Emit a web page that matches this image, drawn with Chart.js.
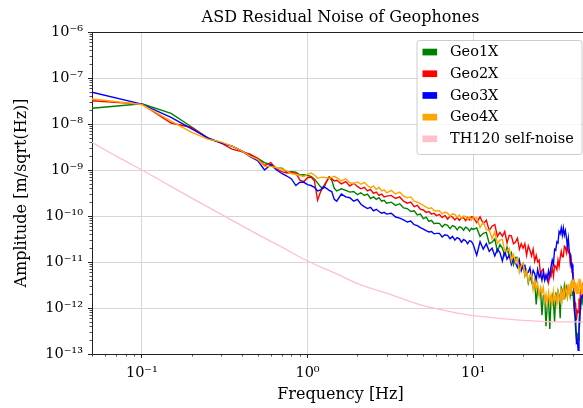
<!DOCTYPE html>
<html>
<head>
<meta charset="utf-8">
<script src="https://cdn.jsdelivr.net/npm/chart.js@4.4.0/dist/chart.umd.min.js"></script>
<style>
  html, body { margin: 0; padding: 0; background: #fff; overflow: hidden; }
  #wrap { width: 583px; height: 408px; overflow: hidden; }
</style>
</head>
<body>
<div id="wrap"><canvas id="asdChart" width="600" height="408"></canvas></div>
<script>
// frequency bins shared by the geophone spectra [Hz]
const freqs = [
  0.05, 0.1, 0.15, 0.2, 0.25, 0.3, 0.35, 0.4, 0.45, 0.5, 0.55, 0.6, 0.65, 0.7, 0.75,
  0.8, 0.85, 0.9, 0.95, 1.0, 1.05, 1.1, 1.15, 1.2, 1.25, 1.3, 1.35, 1.4, 1.45, 1.5,
  1.6, 1.7, 1.8, 1.9, 2.0, 2.1, 2.2, 2.3, 2.4, 2.5, 2.6, 2.7, 2.8, 2.9, 3.0,
  3.2, 3.4, 3.6, 3.8, 4.0, 4.2, 4.4, 4.6, 4.8, 5.0, 5.2, 5.4, 5.6, 5.8, 6.0,
  6.25, 6.5, 6.75, 7.0, 7.25, 7.5, 7.75, 8.0, 8.25, 8.5, 8.75, 9.0, 9.25, 9.5, 9.75, 10.0,
  10.5, 11, 11.5, 12, 12.5, 13, 13.5, 14,
  14.5, 15, 15.5, 16, 16.5, 17, 17.5, 18,
  18.5, 19, 19.5, 20, 20.5, 21, 21.5, 22,
  22.5, 23, 23.5, 24, 24.5, 25, 25.5, 26,
  26.5, 27, 27.5, 28, 28.5, 29, 29.5, 30,
  30.5, 31, 31.5, 32, 32.5, 33, 33.5, 34,
  34.5, 35, 35.5, 36, 36.5, 37, 37.5, 38,
  38.5, 39, 39.5, 40, 40.5, 41, 41.5, 42,
  42.5, 43, 43.5, 44, 44.5, 45, 45.5, 46
];

// residual ASD per geophone [m/sqrt(Hz)]
const geo1X = [
  2.2e-8, 2.75e-8, 1.7e-8, 8.6e-9, 5.0e-9, 3.9e-9, 3.3e-9, 2.6e-9, 2.1e-9, 1.8e-9, 1.45e-9, 1.3e-9, 1.1e-9, 1.1e-9, 9.0e-10,
  9.2e-10, 9.0e-10, 7.8e-10, 7.9e-10, 7.6e-10, 7.3e-10, 6.4e-10, 5.2e-10, 4.3e-10, 4.0e-10, 5.5e-10, 7.0e-10, 6.0e-10, 4.0e-10, 3.5e-10,
  3.9e-10, 3.6e-10, 3.3e-10, 3.4e-10, 2.9e-10, 3.2e-10, 2.8e-10, 3.0e-10, 2.4e-10, 2.6e-10, 2.3e-10, 2.5e-10, 2.1e-10, 2.2e-10, 1.9e-10,
  2.0e-10, 1.7e-10, 1.85e-10, 1.5e-10, 1.45e-10, 1.25e-10, 1.3e-10, 1.05e-10, 1.1e-10, 8.8e-11, 9.4e-11, 7.6e-11, 8.0e-11, 6.8e-11, 7.0e-11,
  6.9e-11, 5.8e-11, 6.6e-11, 6.3e-11, 5.3e-11, 6.2e-11, 5.9e-11, 5.0e-11, 5.8e-11, 5.6e-11, 4.9e-11, 5.7e-11, 5.4e-11, 4.7e-11, 5.4e-11, 5.1e-11,
  5.5e-11, 3.6e-11, 4.2e-11, 4.4e-11, 2.5e-11, 2.7e-11, 3.2e-11, 1.7e-11,
  2.4e-11, 2.0e-11, 1.4e-11, 2.1e-11, 1.3e-11, 1.6e-11, 8.8e-12, 1.25e-11,
  1.25e-11, 7.6e-12, 7.6e-12, 9.1e-12, 5.0e-12, 6.3e-12, 3.5e-12, 4.8e-12,
  3.8e-12, 2.8e-12, 4.0e-12, 1.2e-12, 2.75e-12, 2.0e-12, 2.5e-12, 7.0e-13,
  1.85e-12, 1.8e-12, 4.0e-13, 1.15e-12, 1.5e-12, 3.5e-13, 1.5e-12, 1.9e-12,
  1.3e-12, 5.0e-13, 2.2e-12, 1.45e-12, 2.3e-12, 1.9e-12, 6.0e-13, 2.75e-12,
  2.4e-12, 1.85e-12, 3.0e-12, 1.95e-12, 2.7e-12, 1.8e-12, 2.9e-12, 2.75e-12,
  1.9e-12, 3.0e-12, 1.9e-12, 2.3e-12, 1.1e-12, 7.2e-13, 3.4e-13, 2.2e-13,
  2.6e-13, 2.0e-13, 4.8e-13, 1.0e-12, 9.6e-13, 1.7e-12, 1.35e-12, 1.8e-12
];
const geo2X = [
  3.2e-8, 2.7e-8, 1.05e-8, 8.4e-9, 4.8e-9, 3.9e-9, 2.85e-9, 2.5e-9, 2.2e-9, 1.8e-9, 1.25e-9, 1.45e-9, 1.05e-9, 9.2e-10, 8.6e-10,
  8.8e-10, 8.5e-10, 6.0e-10, 5.6e-10, 6.8e-10, 7.0e-10, 5.8e-10, 2.2e-10, 3.4e-10, 4.4e-10, 5.6e-10, 7.1e-10, 6.4e-10, 5.8e-10, 6.0e-10,
  5.0e-10, 5.6e-10, 4.5e-10, 5.2e-10, 4.4e-10, 3.9e-10, 4.2e-10, 3.5e-10, 3.8e-10, 3.1e-10, 3.3e-10, 2.8e-10, 3.0e-10, 2.6e-10, 2.7e-10,
  2.8e-10, 2.4e-10, 2.6e-10, 2.1e-10, 1.9e-10, 2.0e-10, 1.6e-10, 1.7e-10, 1.4e-10, 1.35e-10, 1.2e-10, 1.25e-10, 1.1e-10, 1.15e-10, 1.02e-10,
  1.08e-10, 9.3e-11, 1.03e-10, 8.6e-11, 9.9e-11, 9.5e-11, 8.2e-11, 9.4e-11, 8.0e-11, 9.1e-11, 9.2e-11, 7.9e-11, 9.3e-11, 8.2e-11, 9.6e-11, 9.4e-11,
  7.2e-11, 9.6e-11, 6.8e-11, 8.1e-11, 4.8e-11, 6.0e-11, 6.5e-11, 3.6e-11,
  4.4e-11, 3.6e-11, 4.6e-11, 2.6e-11, 3.8e-11, 3.7e-11, 2.5e-11, 2.7e-11,
  3.3e-11, 1.9e-11, 2.5e-11, 2.0e-11, 2.5e-11, 1.4e-11, 2.25e-11, 1.8e-11,
  1.35e-11, 1.9e-11, 1.05e-11, 1.4e-11, 1.0e-11, 1.1e-11, 5.2e-12, 6.6e-12,
  7.0e-12, 4.1e-12, 4.5e-12, 5.2e-12, 3.6e-12, 5.5e-12, 4.9e-12, 7.8e-12,
  4.9e-12, 8.4e-12, 7.9e-12, 6.8e-12, 1.1e-11, 8.0e-12, 1.25e-11, 1.7e-11,
  1.3e-11, 1.3e-11, 2.2e-11, 2.1e-11, 1.6e-11, 2.3e-11, 1.6e-11, 1.7e-11,
  9.6e-12, 1.2e-11, 6.0e-12, 5.5e-12, 3.6e-12, 1.4e-12, 1.25e-12, 5.4e-13,
  8.8e-13, 8.0e-13, 1.6e-12, 1.3e-12, 2.4e-12, 2.25e-12, 2.9e-12, 2.0e-12
];
const geo3X = [
  4.9e-8, 2.7e-8, 1.4e-8, 7.8e-9, 5.0e-9, 3.9e-9, 3.3e-9, 2.6e-9, 1.95e-9, 1.6e-9, 1.0e-9, 1.3e-9, 1.0e-9, 8.4e-10, 7.4e-10,
  6.4e-10, 4.6e-10, 5.4e-10, 5.4e-10, 4.8e-10, 4.6e-10, 4.2e-10, 3.5e-10, 3.7e-10, 4.4e-10, 4.0e-10, 3.6e-10, 3.4e-10, 2.3e-10, 2.1e-10,
  3.0e-10, 2.6e-10, 2.5e-10, 2.1e-10, 2.3e-10, 1.8e-10, 1.6e-10, 1.45e-10, 1.55e-10, 1.3e-10, 1.4e-10, 1.25e-10, 1.15e-10, 1.2e-10, 1.1e-10,
  1.15e-10, 9.5e-11, 9.0e-11, 8.2e-11, 7.4e-11, 7.8e-11, 6.5e-11, 6.2e-11, 5.6e-11, 5.2e-11, 4.8e-11, 4.5e-11, 4.6e-11, 4.1e-11, 4.2e-11,
  4.2e-11, 3.5e-11, 3.9e-11, 3.8e-11, 3.2e-11, 3.6e-11, 3.0e-11, 3.4e-11, 3.2e-11, 2.7e-11, 3.1e-11, 2.9e-11, 2.5e-11, 2.9e-11, 2.8e-11, 2.4e-11,
  1.4e-11, 2.75e-11, 1.9e-11, 2.5e-11, 1.7e-11, 2.0e-11, 1.35e-11, 1.9e-11,
  1.6e-11, 1.05e-11, 1.75e-11, 1.15e-11, 1.4e-11, 8.8e-12, 1.2e-11, 9.5e-12,
  7.6e-12, 1.1e-11, 6.4e-12, 8.2e-12, 8.5e-12, 5.7e-12, 6.0e-12, 7.5e-12,
  4.6e-12, 6.6e-12, 5.6e-12, 4.1e-12, 6.9e-12, 4.7e-12, 5.6e-12, 4.0e-12,
  6.0e-12, 4.0e-12, 5.3e-12, 4.05e-12, 6.5e-12, 4.8e-12, 7.9e-12, 1.1e-11,
  9.0e-12, 1.9e-11, 1.8e-11, 2.75e-11, 2.6e-11, 4.6e-11, 4.1e-11, 5.5e-11,
  3.8e-11, 5.5e-11, 3.8e-11, 4.8e-11, 3.5e-11, 2.25e-11, 3.25e-11, 1.7e-11,
  1.5e-11, 8.0e-12, 8.8e-12, 4.5e-12, 2.9e-12, 8.0e-13, 6.0e-13, 1.8e-13,
  2.0e-13, 1.2e-13, 3.3e-13, 5.1e-13, 1.4e-12, 1.8e-12, 2.3e-12, 1.6e-12
];
const geo4X = [
  3.5e-8, 2.65e-8, 1.15e-8, 6.6e-9, 4.7e-9, 4.1e-9, 3.3e-9, 2.6e-9, 2.0e-9, 1.7e-9, 1.2e-9, 1.2e-9, 1.12e-9, 1.05e-9, 9.6e-10,
  8.4e-10, 8.0e-10, 7.6e-10, 7.2e-10, 8.0e-10, 8.6e-10, 7.8e-10, 6.6e-10, 6.9e-10, 7.0e-10, 6.8e-10, 6.6e-10, 6.9e-10, 7.3e-10, 6.8e-10,
  5.8e-10, 6.4e-10, 5.3e-10, 5.0e-10, 5.5e-10, 4.9e-10, 5.4e-10, 4.6e-10, 4.1e-10, 4.5e-10, 3.8e-10, 4.2e-10, 3.5e-10, 3.7e-10, 3.2e-10,
  3.6e-10, 3.0e-10, 3.3e-10, 2.7e-10, 2.5e-10, 2.6e-10, 2.1e-10, 2.0e-10, 1.85e-10, 1.7e-10, 1.55e-10, 1.45e-10, 1.5e-10, 1.3e-10, 1.3e-10,
  1.3e-10, 1.1e-10, 1.22e-10, 1.16e-10, 9.9e-11, 1.12e-10, 1.08e-10, 9.3e-11, 1.05e-10, 8.9e-11, 1.0e-10, 9.8e-11, 8.5e-11, 9.5e-11, 8.1e-11, 9.2e-11,
  9.2e-11, 5.6e-11, 7.4e-11, 5.0e-11, 5.0e-11, 3.2e-11, 4.5e-11, 2.55e-11,
  3.0e-11, 3.1e-11, 1.7e-11, 1.8e-11, 2.0e-11, 1.05e-11, 1.45e-11, 9.9e-12,
  1.2e-11, 6.0e-12, 8.5e-12, 9.5e-12, 5.0e-12, 6.6e-12, 3.75e-12, 4.7e-12,
  5.6e-12, 2.5e-12, 3.8e-12, 2.55e-12, 3.5e-12, 1.75e-12, 2.8e-12, 2.1e-12,
  2.8e-12, 1.4e-12, 2.0e-12, 1.2e-12, 2.2e-12, 1.45e-12, 1.9e-12, 1.1e-12,
  2.25e-12, 1.4e-12, 1.9e-12, 1.2e-12, 2.3e-12, 1.7e-12, 1.4e-12, 2.65e-12,
  1.55e-12, 2.4e-12, 1.5e-12, 2.9e-12, 2.4e-12, 1.8e-12, 3.3e-12, 2.0e-12,
  3.0e-12, 1.95e-12, 4.1e-12, 2.7e-12, 3.6e-12, 2.25e-12, 3.6e-12, 2.0e-12,
  3.0e-12, 2.1e-12, 4.3e-12, 3.2e-12, 3.75e-12, 1.9e-12, 3.25e-12, 2.0e-12
];

// sensor self-noise model
const th120Freqs = [0.05, 0.07, 0.1, 0.15, 0.2, 0.3, 0.5, 0.7, 1, 1.5, 2, 3, 5, 7, 10, 15, 20, 30, 50];
const th120Noise = [4.0e-9, 2.0e-9, 1.0e-9, 4.4e-10, 2.45e-10, 1.1e-10, 4.0e-11, 2.1e-11, 1.05e-11, 5.5e-12,
                    3.4e-12, 2.1e-12, 1.12e-12, 8.6e-13, 6.8e-13, 5.9e-13, 5.4e-13, 5.0e-13, 5.0e-13];

const seriesNames = ['Geo1X', 'Geo2X', 'Geo3X', 'Geo4X', 'TH120 self-noise'];
const seriesColors = ['#008000', '#ff0000', '#0000ff', '#ffa500', '#ffc0cb'];

// axis ticks
const xMajor = [0.1, 1, 10];
const xMinor = [0.05, 0.06, 0.07, 0.08, 0.09, 0.2, 0.3, 0.4, 0.5, 0.6, 0.7, 0.8, 0.9,
                2, 3, 4, 5, 6, 7, 8, 9, 20, 30, 40, 50];
const yMajor = [1e-13, 1e-12, 1e-11, 1e-10, 1e-9, 1e-8, 1e-7, 1e-6];
const yMinor = [];
for (let i = 0; i < yMajor.length - 1; i++) {
  for (let m = 2; m <= 9; m++) yMinor.push(m * yMajor[i]);
}

const SUP = {'-': '\u207b', '0': '\u2070', '1': '\u00b9', '2': '\u00b2', '3': '\u00b3', '4': '\u2074',
             '5': '\u2075', '6': '\u2076', '7': '\u2077', '8': '\u2078', '9': '\u2079'};
function decadeLabel(v) {
  let e = Math.round(Math.log10(v));
  return '10' + String(e).split('').map(c => SUP[c]).join('');
}

function tickList(major, minor) {
  let ticks = major.map(v => ({ value: v, major: true }))
    .concat(minor.map(v => ({ value: v, major: false })));
  return ticks.sort((a, b) => a.value - b.value);
}

const FONT = 'DejaVu Serif';
const SPINE = '#222';
const GRID = '#d6d6d6';

// frame on top/right, minor tick marks and the legend box
const axesExtras = {
  id: 'axesExtras',
  afterDatasetsDraw(chart) {
    const {ctx, chartArea: a, scales} = chart;
    ctx.save();
    ctx.strokeStyle = SPINE;
    ctx.lineWidth = 1;
    ctx.beginPath();
    ctx.moveTo(a.left, a.top + 0.5); ctx.lineTo(a.right, a.top + 0.5);
    ctx.moveTo(a.right - 0.5, a.top); ctx.lineTo(a.right - 0.5, a.bottom);
    ctx.stroke();

    ctx.lineWidth = 0.8;
    ctx.beginPath();
    scales.x.ticks.forEach(t => {
      if (t.major) return;
      let px = Math.round(scales.x.getPixelForValue(t.value)) + 0.5;
      ctx.moveTo(px, a.bottom); ctx.lineTo(px, a.bottom + 2.5);
    });
    scales.y.ticks.forEach(t => {
      if (t.major) return;
      let py = Math.round(scales.y.getPixelForValue(t.value)) + 0.5;
      ctx.moveTo(a.left, py); ctx.lineTo(a.left - 2.5, py);
    });
    ctx.stroke();
    ctx.restore();
  },
  afterDraw(chart) {
    const {ctx, chartArea: a} = chart;
    let boxW = 165, boxH = 114;
    let bx = a.right - 7.5 - boxW, by = a.top + 8;
    ctx.save();
    ctx.beginPath();
    ctx.roundRect(bx + 0.5, by + 0.5, boxW, boxH, 2.5);
    ctx.fillStyle = 'rgba(255,255,255,0.8)';
    ctx.fill();
    ctx.strokeStyle = '#cccccc';
    ctx.lineWidth = 1;
    ctx.stroke();

    ctx.font = '14.5px "' + FONT + '"';
    ctx.textBaseline = 'middle';
    ctx.textAlign = 'left';
    chart.data.datasets.forEach((ds, i) => {
      let rowY = by + 12 + i * 21.7;
      ctx.fillStyle = ds.borderColor;
      ctx.fillRect(bx + 6, rowY - 3.3, 14.6, 6.7);
      ctx.fillStyle = '#000';
      ctx.fillText(ds.label, bx + 33.5, rowY + 0.5);
    });
    ctx.restore();
  }
};

const geoSeries = [geo1X, geo2X, geo3X, geo4X];
const datasets = geoSeries.map((vals, i) => ({
  label: seriesNames[i],
  data: freqs.map((f, k) => ({ x: f, y: vals[k] })),
  borderColor: seriesColors[i],
  borderWidth: 1.4,
  pointRadius: 0,
  tension: 0,
  order: 6 - i
}));
datasets.push({
  label: seriesNames[4],
  data: th120Freqs.map((f, k) => ({ x: f, y: th120Noise[k] })),
  borderColor: seriesColors[4],
  borderWidth: 1.3,
  pointRadius: 0,
  cubicInterpolationMode: 'monotone',
  order: 1
});

const ctx = document.getElementById('asdChart').getContext('2d');
new Chart(ctx, {
  type: 'line',
  data: { datasets: datasets },
  plugins: [axesExtras],
  options: {
    responsive: false,
    animation: false,
    devicePixelRatio: 1,
    layout: { padding: { left: 0, right: 11, top: 0, bottom: 0 } },
    plugins: {
      legend: { display: false },
      tooltip: { enabled: false },
      title: {
        display: true,
        text: 'ASD Residual Noise of Geophones',
        fullSize: false,
        color: '#000',
        font: { family: FONT, size: 16, weight: 'normal' },
        padding: { top: 8.6, bottom: 4.2 }
      }
    },
    scales: {
      x: {
        type: 'logarithmic',
        min: 0.05,
        max: 50,
        afterBuildTicks: scale => { scale.ticks = tickList(xMajor, xMinor); },
        afterFit: scale => { scale.height = 54; },
        ticks: {
          autoSkip: false,
          maxRotation: 0,
          padding: 7,
          color: '#000',
          font: { family: FONT, size: 14.5 },
          callback: (v, i, ticks) => ticks[i].major ? decadeLabel(v) : ''
        },
        grid: {
          color: c => (c.tick && c.tick.major) ? GRID : 'rgba(0,0,0,0)',
          lineWidth: 1,
          tickLength: 4,
          tickColor: c => (c.tick && c.tick.major) ? SPINE : 'rgba(0,0,0,0)'
        },
        border: { color: SPINE, width: 1 },
        title: {
          display: true,
          text: 'Frequency [Hz]',
          color: '#000',
          font: { family: FONT, size: 16 },
          padding: { top: 0, bottom: 3.4 }
        }
      },
      y: {
        type: 'logarithmic',
        min: 1e-13,
        max: 1e-6,
        afterBuildTicks: scale => { scale.ticks = tickList(yMajor, yMinor); },
        afterFit: scale => { scale.width = 92; },
        ticks: {
          autoSkip: false,
          padding: 5,
          color: '#000',
          font: { family: FONT, size: 14.5 },
          callback: (v, i, ticks) => ticks[i].major ? decadeLabel(v) : ''
        },
        grid: {
          color: c => (c.tick && c.tick.major) ? GRID : 'rgba(0,0,0,0)',
          lineWidth: 1,
          tickLength: 4,
          tickColor: c => (c.tick && c.tick.major) ? SPINE : 'rgba(0,0,0,0)'
        },
        border: { color: SPINE, width: 1 },
        title: {
          display: true,
          text: 'Amplitude [m/sqrt(Hz)]',
          color: '#000',
          font: { family: FONT, size: 16 },
          padding: { top: 12, bottom: 0 }
        }
      }
    }
  }
});
</script>
</body>
</html>
